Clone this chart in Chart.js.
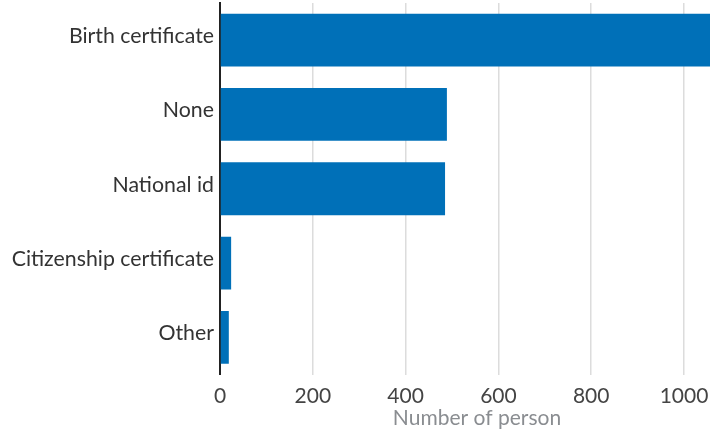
<!DOCTYPE html>
<html>
<head>
<meta charset="utf-8">
<script src="https://cdn.jsdelivr.net/npm/chart.js@4"></script>
<style>
html,body{margin:0;padding:0;background:#fff;}
#wrap{width:727px;height:431px;position:relative;}
</style>
</head>
<body>
<div id="wrap"><canvas id="c" width="727" height="431"></canvas></div>
<script>
const categories = ["Birth certificate", "None", "National id", "Citizenship certificate", "Other"];
const persons = [1056, 489, 485, 24, 19];
const xTicks = [0, 200, 400, 600, 800, 1000];
const xMax = 1056;

function zeroPad(s) { s.paddingTop = 0; s.paddingBottom = 0; s.paddingLeft = 0; s.paddingRight = 0; }

// centre the x-axis title over the area right of the category labels, as in the reference
const titleShift = {
  id: 'titleShift',
  beforeDraw(chart) { const s = chart.scales.x; s._origRight = s.right; s.right = s.right + 24; },
  afterDraw(chart) { const s = chart.scales.x; s.right = s._origRight; }
};

new Chart(document.getElementById('c'), {
  type: 'bar',
  data: {
    labels: categories,
    datasets: [{
      data: persons,
      backgroundColor: '#0070b8',
      borderWidth: 0,
      categoryPercentage: 0.71,
      barPercentage: 1.0
    }]
  },
  plugins: [titleShift],
  options: {
    indexAxis: 'y',
    responsive: false,
    animation: false,
    events: [],
    layout: { padding: { top: 3, right: 17, left: 0, bottom: 0 } },
    plugins: { legend: { display: false }, tooltip: { enabled: false } },
    scales: {
      x: {
        min: 0,
        max: xMax,
        afterBuildTicks: s => { s.ticks = xTicks.map(v => ({ value: v })); },
        afterFit: s => { s.height = 56.5; zeroPad(s); },
        grid: { color: '#dcdcdc', lineWidth: 1.5, drawTicks: false },
        border: { display: false },
        ticks: { font: { family: 'Lato', size: 21 }, color: '#444', padding: 9, maxRotation: 0, callback: v => String(v) },
        title: { display: true, text: 'Number of person', color: '#8a8d91', font: { family: 'Lato', size: 21 }, padding: { top: 0, bottom: 0 } }
      },
      y: {
        afterFit: s => { s.width = 220; zeroPad(s); },
        grid: { color: 'transparent', drawTicks: false },
        border: { display: true, color: '#222', width: 2 },
        ticks: { font: { family: 'Lato', size: 21.3 }, color: '#333', padding: 6, labelOffset: -4 }
      }
    }
  }
});
</script>
</body>
</html>
